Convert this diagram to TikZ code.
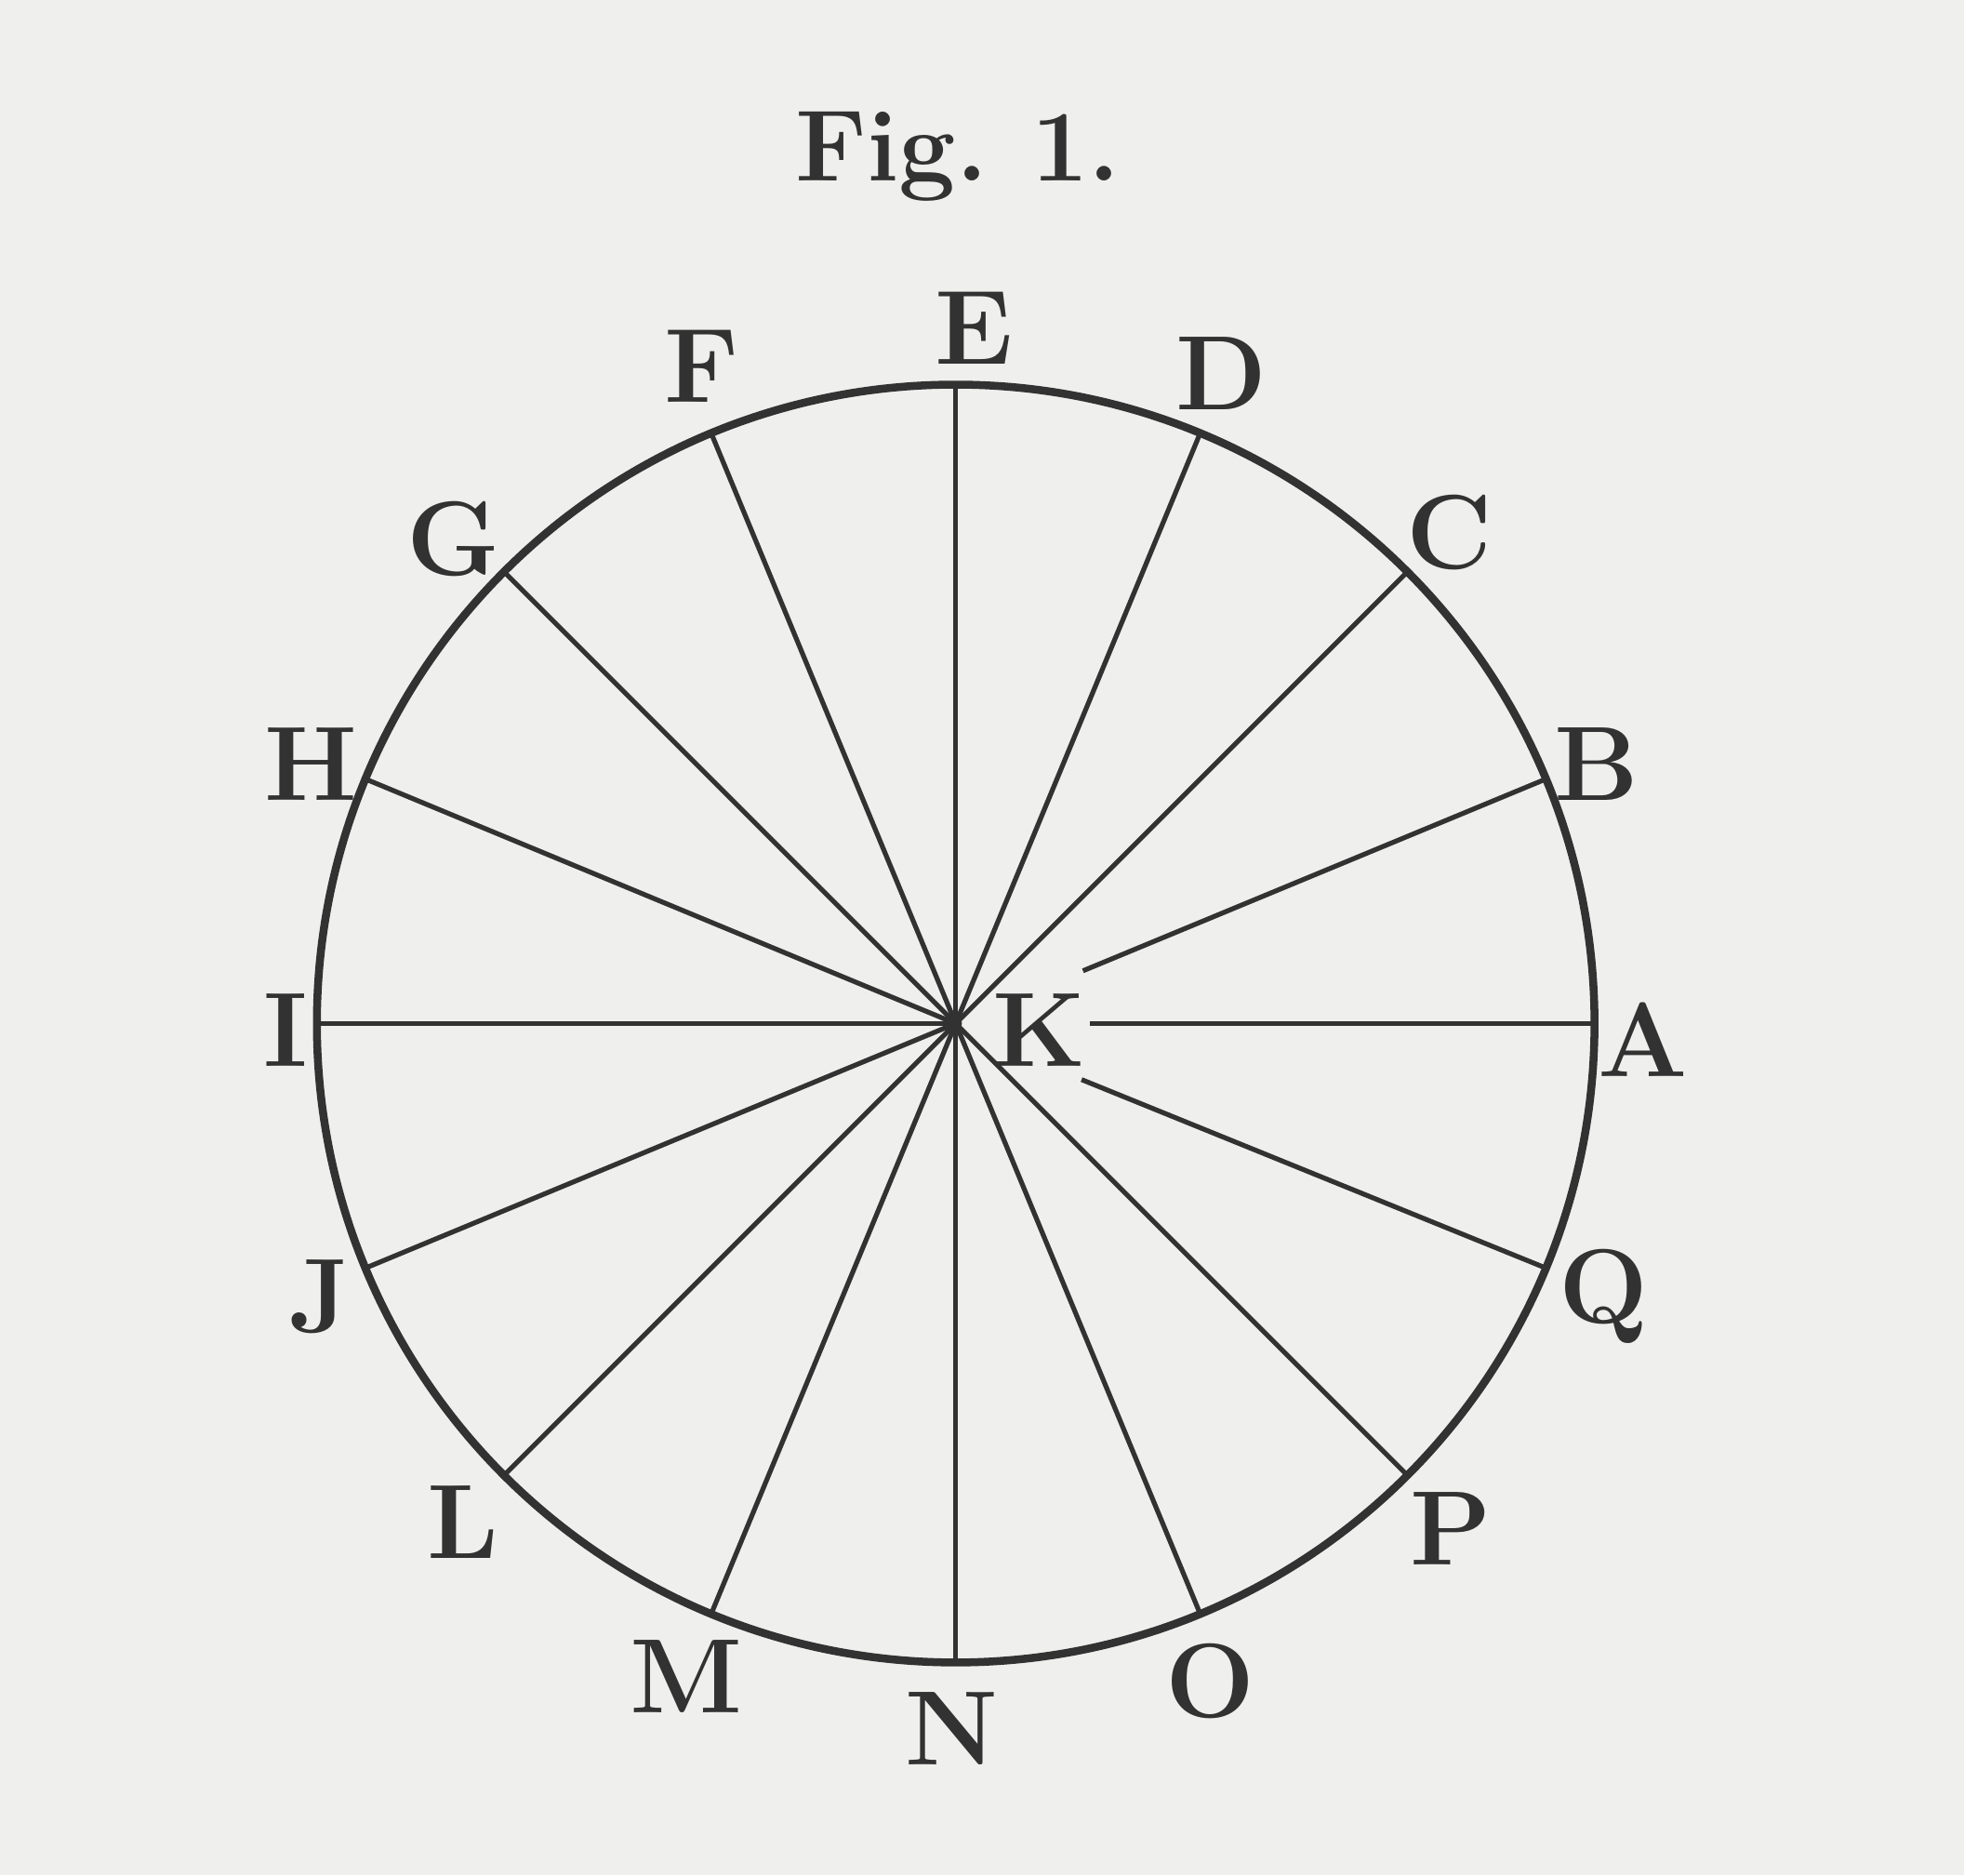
\documentclass[tikz,border=0pt]{standalone}
\usepackage{amsmath}
\usepackage{xcolor}
\definecolor{paper}{RGB}{239,239,238}
\definecolor{ink}{RGB}{50,50,50}
\tikzset{
  rim/.style={line width=1.8pt, ink},
  spoke/.style={line width=1.1pt, ink},
  letter/.style={ink, font=\fontsize{24}{28}\selectfont\bfseries, inner sep=0pt},
}

\begin{document}
\begin{tikzpicture}
\fill[paper] (-7.63,-6.80) rectangle (8.05,8.17); %background
\useasboundingbox (-7.63,-6.80) rectangle (8.05,8.17);
\node[ink, font=\fontsize{23}{27}\selectfont\bfseries] (title) at (0.02,6.92) {Fig.\hspace{0.35cm}1.};
\draw[rim] (0,0) circle (5.1); %wheel
\coordinate (hub) at (0,0);
\fill[ink] (hub) circle (0.05);
% points on the rim
\coordinate (a) at (0:5.1);
\coordinate (b) at (22.5:5.1);
\coordinate (c) at (45:5.1);
\coordinate (d) at (67.5:5.1);
\coordinate (e) at (90:5.1);
\coordinate (f) at (112.5:5.1);
\coordinate (g) at (135:5.1);
\coordinate (h) at (157.5:5.1);
\coordinate (i) at (180:5.1);
\coordinate (j) at (202.5:5.1);
\coordinate (l) at (225:5.1);
\coordinate (m) at (247.5:5.1);
\coordinate (n) at (270:5.1);
\coordinate (o) at (292.5:5.1);
\coordinate (p) at (315:5.1);
\coordinate (q) at (337.5:5.1);
% spokes that stop short of K
\coordinate (a0) at (0:1.07);
\coordinate (b0) at (22.5:1.1);
\coordinate (q0) at (-24:1.1);
\draw[spoke] (a0) -- (a);
\draw[spoke] (b0) -- (b);
\draw[spoke] (q0) -- (q);
% spokes from the hub
\draw[spoke] (hub) -- (c);
\draw[spoke] (hub) -- (d);
\draw[spoke] (hub) -- (e);
\draw[spoke] (hub) -- (f);
\draw[spoke] (hub) -- (g);
\draw[spoke] (hub) -- (h);
\draw[spoke] (hub) -- (i);
\draw[spoke] (hub) -- (j);
\draw[spoke] (hub) -- (l);
\draw[spoke] (hub) -- (m);
\draw[spoke] (hub) -- (n);
\draw[spoke] (hub) -- (o);
\draw[spoke] (hub) -- (p);
% letters
\node[letter] (K) at (0.67,-0.05) {K};
\node[letter] (A) at (5.49,-0.13) {A};
\node[letter] (B) at (5.12,2.07) {B};
\node[letter] (C) at (3.94,3.92) {C};
\node[letter] (D) at (2.12,5.19) {D};
\node[letter] (E) at (0.15,5.55) {E};
\node[letter] (F) at (-2.03,5.25) {F};
\node[letter] (G) at (-4.01,3.87) {G};
\node[letter] (H) at (-5.15,2.07) {H};
\node[letter] (I) at (-5.35,-0.05) {I};
\node[letter] (J) at (-5.08,-2.18) {J};
\node[letter] (L) at (-3.93,-3.98) {L};
\node[letter] (M) at (-2.15,-5.21) {M};
\node[letter] (N) at (-0.03,-5.63) {N};
\node[letter] (O) at (2.03,-5.25) {O};
\node[letter] (P) at (3.95,-4.03) {P};
\node[letter] (Q) at (5.17,-2.18) {Q};
\end{tikzpicture}
\end{document}
